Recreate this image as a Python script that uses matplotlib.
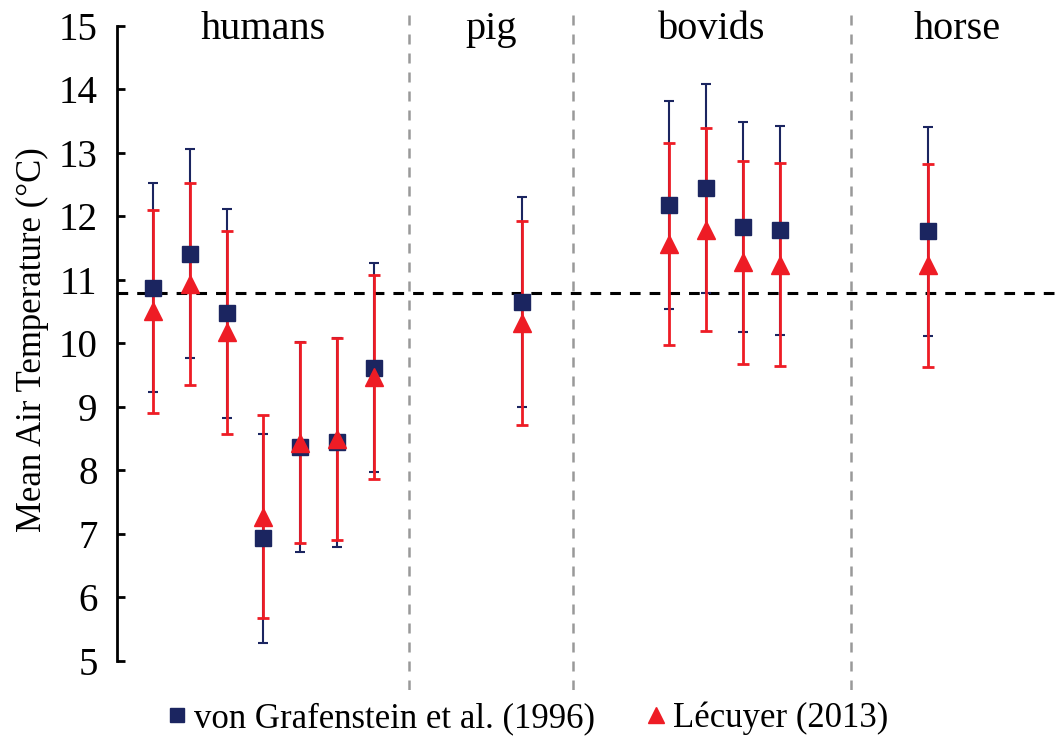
import matplotlib
matplotlib.use("Agg")
import matplotlib.pyplot as plt
from matplotlib.lines import Line2D

# Sample positions along the category axis (humans 1-7, pig, bovids, horse)
positions = [1, 2, 3, 4, 5, 6, 7, 11, 15, 16, 17, 18, 22]

# von Grafenstein et al. (1996) calibration
grafenstein_mean = [10.88, 11.415, 10.475, 6.93, 8.375, 8.445, 9.62,
                    10.655, 12.18, 12.445, 11.83, 11.78, 11.765]
grafenstein_err = [1.65, 1.645, 1.645, 1.65, 1.655, 1.645, 1.64,
                   1.655, 1.64, 1.645, 1.65, 1.65, 1.645]

# Lécuyer (2013) calibration
lecuyer_mean = [10.505, 10.94, 10.175, 7.27, 8.44, 8.50, 9.47,
                10.32, 11.565, 11.79, 11.28, 11.24, 11.23]
lecuyer_err = [1.595, 1.59, 1.595, 1.6, 1.59, 1.59, 1.6,
               1.6, 1.595, 1.6, 1.6, 1.6, 1.6]

# Group separators and names
group_edges = [0.03, 7.95, 12.4, 19.92, 25.67]
group_names = ["humans", "pig", "bovids", "horse"]

reference_temp = 10.8
y_ticks = [5, 6, 7, 8, 9, 10, 11, 12, 13, 14, 15]

NAVY = "#1b2560"
RED = "#ee1c25"

plt.rcParams["font.family"] = ["Liberation Serif", "DejaVu Serif"]

fig = plt.figure(figsize=(10.63, 7.42), dpi=100)
ax = fig.add_axes([117 / 1063, 52 / 742, 946 / 1063, 680 / 742])

ax.set_xlim(group_edges[0], group_edges[-1])
ax.set_ylim(4.543, 15.25)

# group dividers
for xe in group_edges[1:-1]:
    ax.axvline(xe, color="#999999", lw=1.8, ls=(0, (4.0, 3.6)), zorder=1)

# mean present-day air temperature
ax.axhline(reference_temp, color="black", lw=2.2, ls=(0, (3.5, 2.95)), zorder=2)

# error bars
ax.errorbar(positions, grafenstein_mean, yerr=grafenstein_err, fmt="none",
            ecolor=NAVY, elinewidth=1.5, capsize=3.8, capthick=1.5, zorder=3)
ax.errorbar(positions, lecuyer_mean, yerr=lecuyer_err, fmt="none",
            ecolor=RED, elinewidth=2.0, capsize=4.3, capthick=2.0, zorder=4)

# markers
ax.plot(positions, grafenstein_mean, ls="none", marker="s", ms=11.5,
        mfc=NAVY, mec=NAVY, zorder=5)
ax.plot(positions, lecuyer_mean, ls="none", marker="^", ms=12.5,
        mfc=RED, mec=RED, zorder=6)

# group names
for i, name in enumerate(group_names):
    xc = (group_edges[i] + group_edges[i + 1]) / 2
    ax.text(xc, 14.8, name, ha="center", va="baseline", fontsize=29)

# axes styling
for side in ["top", "right", "bottom"]:
    ax.spines[side].set_visible(False)
ax.spines["left"].set_linewidth(2.0)
ax.spines["left"].set_bounds(5, 15)
ax.set_xticks([])
ax.set_yticks(y_ticks)
ax.tick_params(axis="y", direction="in", length=6, width=2.0, pad=14,
               labelsize=28)
ax.set_ylabel("Mean Air Temperature (°C)", fontsize=25)
ax.yaxis.set_label_coords(-0.072, 0.515)

handles = [
    Line2D([], [], ls="none", marker="s", ms=10.5, mfc=NAVY, mec=NAVY),
    Line2D([], [], ls="none", marker="^", ms=11.5, mfc=RED, mec=RED),
]
fig.legend(handles, ["von Grafenstein et al. (1996)", "Lécuyer (2013)"],
           loc="center", bbox_to_anchor=(0.496, 0.032), ncol=2,
           frameon=False, fontsize=25, handlelength=0.6,
           handletextpad=0.2, columnspacing=1.45)

fig.savefig("out.png", dpi=100)
